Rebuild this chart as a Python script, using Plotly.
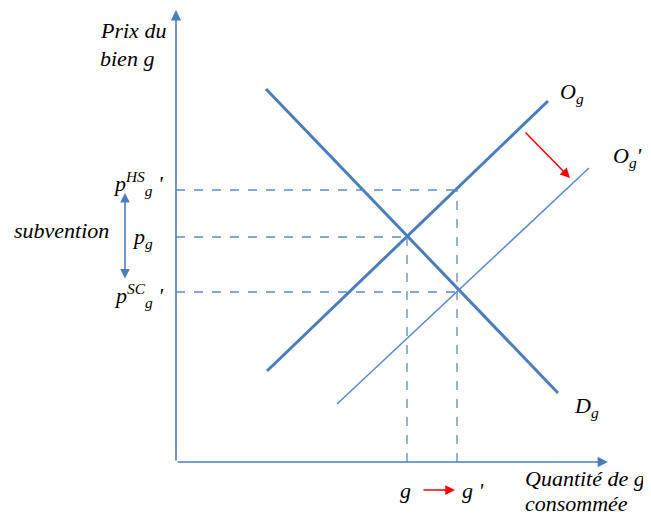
import plotly.graph_objects as go

# Schematic data (quantity, price) in chart units
demand_q = [9.0, 38.2]
demand_p = [37.3, 6.9]
supply_q = [9.1, 37.2]
supply_p = [9.1, 36.1]
supply2_q = [16.1, 41.3]
supply2_p = [5.8, 29.4]

q_g, q_g2 = 23.1, 28.1
p_g, p_hs, p_sc = 22.5, 27.2, 17.0

BLUE = "#4A7EBB"
FONT = "Liberation Serif"
FS = 22

fig = go.Figure()
fig.add_trace(go.Scatter(x=demand_q, y=demand_p, mode="lines",
                         line=dict(color=BLUE, width=3), hoverinfo="skip"))
fig.add_trace(go.Scatter(x=supply_q, y=supply_p, mode="lines",
                         line=dict(color=BLUE, width=3), hoverinfo="skip"))
fig.add_trace(go.Scatter(x=supply2_q, y=supply2_p, mode="lines",
                         line=dict(color="#5A8ACB", width=1.5), hoverinfo="skip"))

dash = dict(color="#5A8ACB", width=1.3, dash="dash")
fig.add_trace(go.Scatter(x=[0, q_g2], y=[p_hs, p_hs], mode="lines", line=dash, hoverinfo="skip"))
fig.add_trace(go.Scatter(x=[0, q_g], y=[p_g, p_g], mode="lines", line=dash, hoverinfo="skip"))
fig.add_trace(go.Scatter(x=[0, q_g2], y=[p_sc, p_sc], mode="lines", line=dash, hoverinfo="skip"))
fig.add_trace(go.Scatter(x=[q_g, q_g], y=[0, p_g], mode="lines", line=dash, hoverinfo="skip"))
fig.add_trace(go.Scatter(x=[q_g2, q_g2], y=[0, p_hs], mode="lines", line=dash, hoverinfo="skip"))

anns = []
def arrow(x0, y0, x1, y1, color, width, side="end", size=1.0):
    anns.append(dict(x=x1, y=y1, ax=x0, ay=y0, xref="x", yref="y", axref="x", ayref="y",
                     showarrow=True, arrowhead=2, arrowsize=size, arrowwidth=width,
                     arrowcolor=color, arrowside=side, text=""))

# axes
arrow(0, 0, 0, 45.2, BLUE, 1.6, size=1.3)
arrow(0, 0, 43.2, 0, BLUE, 1.6, size=1.3)
# subvention double arrow
arrow(-5.1, 18.2, -5.1, 26.9, BLUE, 1.6, side="end+start", size=1.2)
# red arrows
arrow(34.8, 33.1, 39.4, 28.4, "#FF0000", 1.5, size=1.3)
arrow(24.6, -2.8, 27.9, -2.8, "#FF0000", 1.5, size=1.3)

def text(x, y, s, xanchor="left"):
    anns.append(dict(x=x, y=y, xref="x", yref="y", text=s, showarrow=False,
                     xanchor=xanchor, yanchor="middle",
                     font=dict(family=FONT, size=FS, color="black")))

text(-7.8, 43.2, "<i>Prix du</i>")
text(-7.8, 40.4, "<i>bien g</i>")
text(-1.1, 27.9, "<i>p<sup>HS</sup><sub>g</sub> '</i>", "right")
text(-16.4, 23.2, "<i>subvention</i>")
text(-2.1, 22.4, "<i>p<sub>g</sub></i>", "right")
text(-1.1, 16.7, "<i>p<sup>SC</sup><sub>g</sub> '</i>", "right")
text(22.9, -2.8, "<i>g</i>", "center")
text(28.4, -2.8, "<i>g '</i>")
text(34.7, -1.6, "<i>Quantité de g</i>")
text(34.7, -4.1, "<i>consommée</i>")
text(38.2, 36.9, "<i>O<sub>g</sub></i>")
text(46.8, 30.5, "<i>O<sub>g</sub>'</i>", "right")
text(39.6, 5.5, "<i>D<sub>g</sub></i>")

# page body has an 8px margin, so the figure is 8px smaller and ranges start at px 8
fig.update_layout(
    width=643, height=507,
    margin=dict(l=0, r=0, t=0, b=0),
    paper_bgcolor="white", plot_bgcolor="white",
    showlegend=False,
    xaxis=dict(range=[-16.8, 47.5], visible=False, fixedrange=True),
    yaxis=dict(range=[-5.3, 45.4], visible=False, fixedrange=True),
    annotations=anns,
)
fig.write_html("out.html")
